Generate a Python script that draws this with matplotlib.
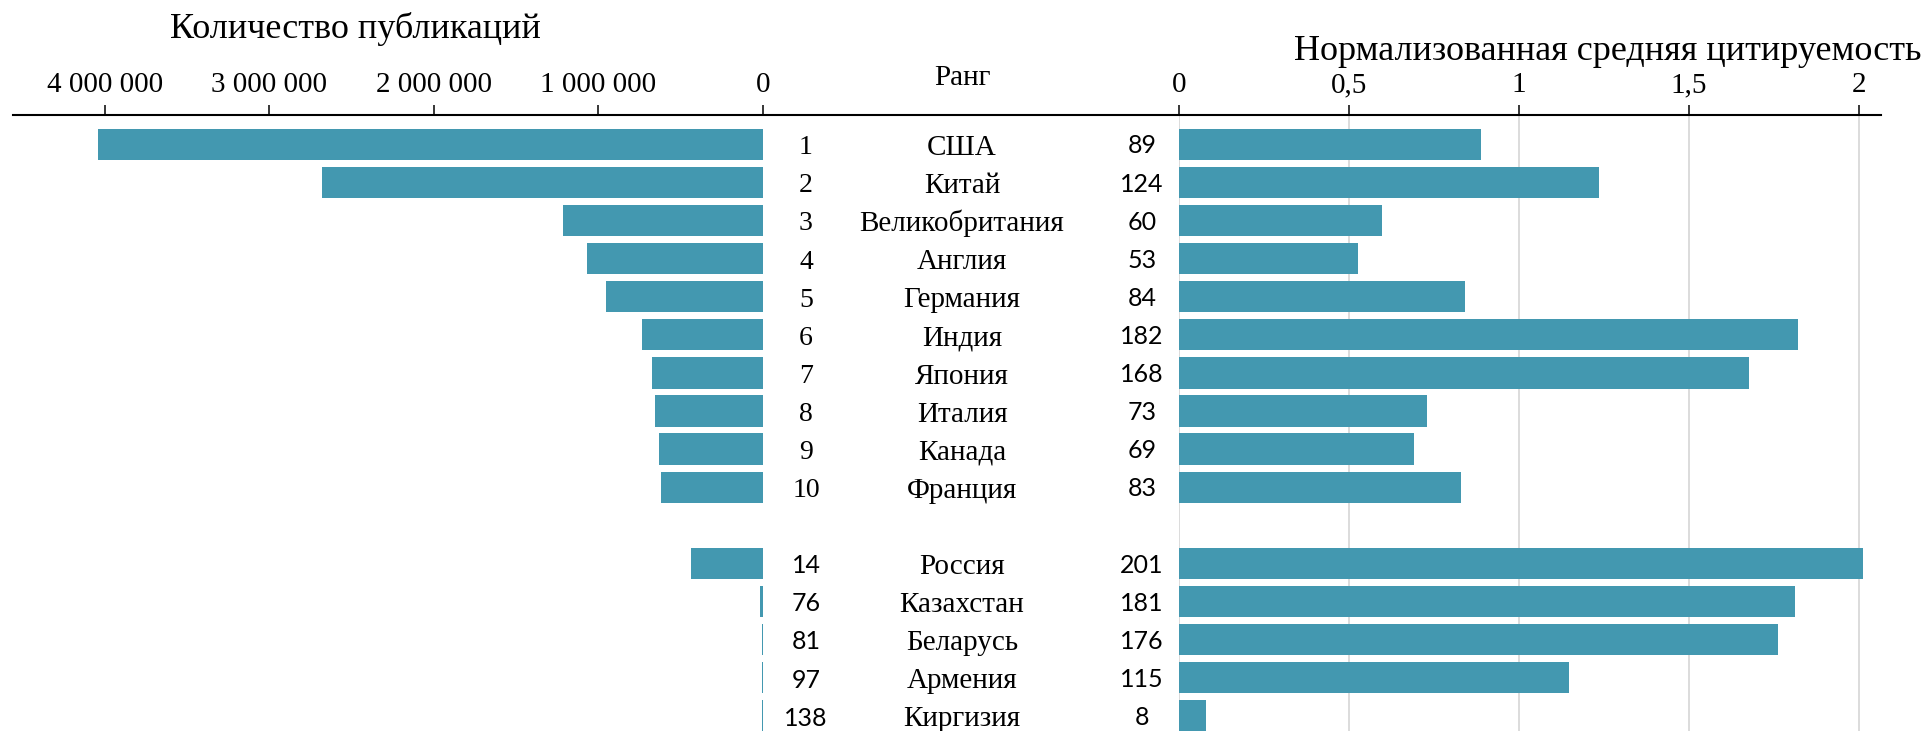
import matplotlib
matplotlib.use("Agg")
import matplotlib.pyplot as plt
from matplotlib.lines import Line2D
from matplotlib.ticker import FixedLocator, FuncFormatter
from matplotlib.transforms import blended_transform_factory

# data
countries = ["США", "Китай", "Великобритания", "Англия", "Германия", "Индия",
             "Япония", "Италия", "Канада", "Франция",
             "Россия", "Казахстан", "Беларусь", "Армения", "Киргизия"]
pub_rank = [1, 2, 3, 4, 5, 6, 7, 8, 9, 10, 14, 76, 81, 97, 138]
publications = [4040000, 2680000, 1218000, 1068000, 952000, 734000, 677000,
                655000, 630000, 618000, 435000, 20000, 9000, 8000, 7000]
cite_rank = [89, 124, 60, 53, 84, 182, 168, 73, 69, 83, 201, 181, 176, 115, 8]
citation = [0.890, 1.237, 0.597, 0.528, 0.841, 1.823, 1.678, 0.729, 0.692,
            0.830, 2.012, 1.812, 1.762, 1.148, 0.078]

pub_ticks = [0, 1000000, 2000000, 3000000, 4000000]
cite_ticks = [0, 0.5, 1, 1.5, 2]

TEAL = "#4398b0"
SERIF = ["Liberation Serif", "DejaVu Serif"]
SANS = ["Lato", "DejaVu Sans"]

plt.rcParams["font.family"] = SERIF

W, H = 1928, 731
fig = plt.figure(figsize=(W / 100, H / 100), dpi=100)

axis_y = 115  # pixel row of the shared axis line
top = (H - axis_y) / H

# one empty slot between the top ten and the second group
slots = [i if i < 10 else i + 1 for i in range(len(countries))]

ax_l = fig.add_axes([13 / W, 0, 750 / W, top])
ax_r = fig.add_axes([1179 / W, 0, 702 / W, top])

ax_l.barh(slots, publications, height=0.82, color=TEAL)
ax_l.set_xlim(4.559e6, 0)

ax_r.barh(slots, citation, height=0.82, color=TEAL, zorder=2)
ax_r.set_xlim(0, 2.066)
ax_r.grid(axis="x", color="#d9d9d9", lw=1.3, zorder=0)
ax_r.set_axisbelow(True)

for ax, ticks, fmt in [
    (ax_l, pub_ticks, lambda v, p: f"{int(v):,}".replace(",", " ")),
    (ax_r, cite_ticks, lambda v, p: f"{v:g}".replace(".", ",")),
]:
    ax.set_ylim(15.4, -0.77)
    ax.xaxis.tick_top()
    ax.xaxis.set_major_locator(FixedLocator(ticks))
    ax.xaxis.set_major_formatter(FuncFormatter(fmt))
    ax.tick_params(axis="x", direction="out", length=7.5, width=1.1,
                   pad=4.5, labelsize=21)
    ax.set_yticks([])
    for s in ax.spines.values():
        s.set_visible(False)
    ax.patch.set_alpha(0)

fig.add_artist(Line2D([13 / W, 1881 / W], [top, top], transform=fig.transFigure,
                      color="black", lw=1.5))

# centre columns: rank, country, citation rank
tr = blended_transform_factory(fig.transFigure, ax_l.transData)
for i, s in enumerate(slots):
    fam = SERIF if pub_rank[i] <= 10 else SANS
    size = 20 if pub_rank[i] <= 10 else 18
    fig.text(806 / W, s + 0.26, str(pub_rank[i]), transform=tr, ha="center",
             va="baseline", fontsize=size, family=fam)
    fig.text(962 / W, s + 0.28, countries[i], transform=tr, ha="center",
             va="baseline", fontsize=21, family=SERIF)
    fig.text(1142 / W, s + 0.24, str(cite_rank[i]), transform=tr, ha="center",
             va="baseline", fontsize=18, family=SANS)

fig.text(355 / W, 1 - 38 / H, "Количество публикаций", ha="center",
         va="baseline", fontsize=26)
fig.text(962 / W, 1 - 85 / H, "Ранг", ha="center", va="baseline", fontsize=21)
fig.text(1921 / W, 1 - 60 / H, "Нормализованная средняя цитируемость",
         ha="right", va="baseline", fontsize=26)

fig.savefig("out.png", dpi=100, facecolor="white")
